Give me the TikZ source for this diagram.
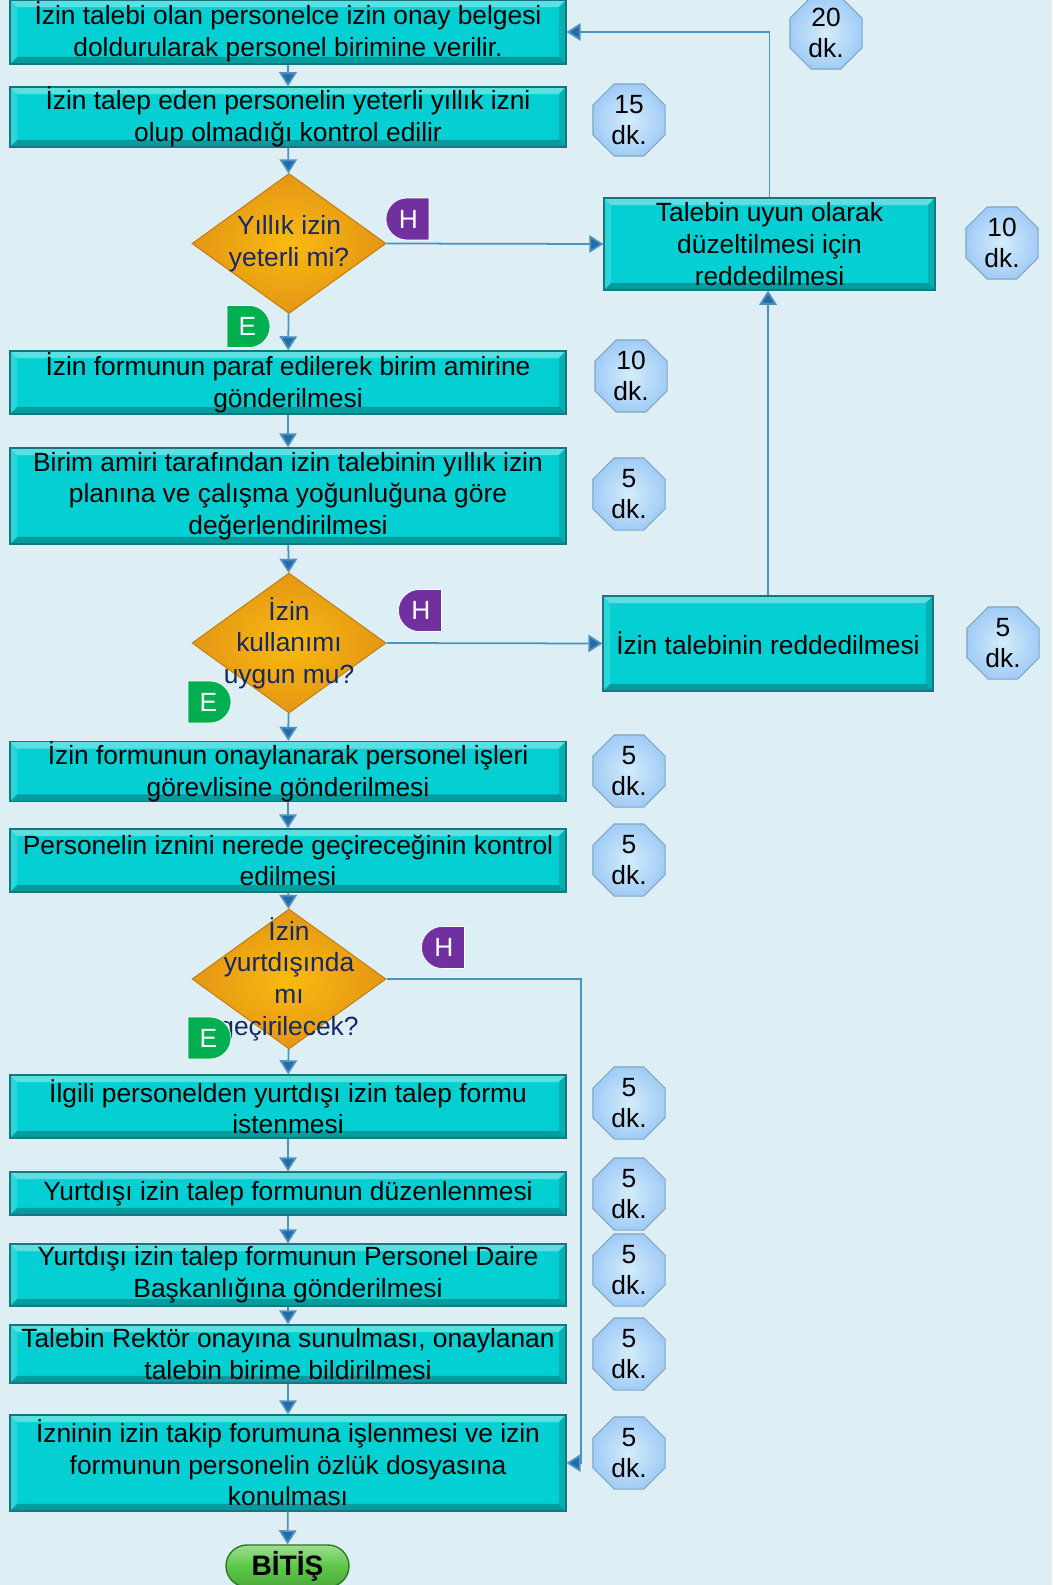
\documentclass[tikz,border=0pt]{standalone}
\usepackage{fontspec}
\setmainfont{Liberation Sans}
\usepackage{xcolor}
\usepackage{tikz}
\usetikzlibrary{shapes.geometric, shapes.misc, arrows.meta, positioning}

\definecolor{bgblue}{RGB}{221,238,244}
\definecolor{proccyan}{RGB}{4,208,211}
\definecolor{procedge}{RGB}{24,118,128}
\definecolor{linkblue}{RGB}{78,146,192}
\definecolor{tipblue}{RGB}{36,106,168}
\definecolor{qorange}{RGB}{248,163,22}
\definecolor{qedge}{RGB}{196,128,18}
\definecolor{qnavy}{RGB}{22,40,100}
\definecolor{octblue}{RGB}{176,222,246}
\definecolor{octedge}{RGB}{128,168,192}
\definecolor{hpurple}{RGB}{112,48,160}
\definecolor{egreen}{RGB}{0,176,80}
\definecolor{endgreen}{RGB}{92,200,72}
\definecolor{endedge}{RGB}{48,120,40}

\tikzset{bevel/.style={path picture={
  \path (path picture bounding box.north west) coordinate (nw)
        (path picture bounding box.south east) coordinate (se);
  \fill[white,opacity=.35] (nw) -- (nw -| se) -- ([shift={(-#1,-#1)}]nw -| se) -- ([shift={(#1,-#1)}]nw) -- cycle;
  \fill[white,opacity=.15] (nw) -- (nw |- se) -- ([shift={(#1,#1)}]nw |- se) -- ([shift={(#1,-#1)}]nw) -- cycle;
  \fill[black,opacity=.15] (se) -- (se |- nw) -- ([shift={(-#1,-#1)}]se |- nw) -- ([shift={(-#1,#1)}]se) -- cycle;
  \fill[black,opacity=.25] (se) -- (nw |- se) -- ([shift={(#1,#1)}]nw |- se) -- ([shift={(-#1,#1)}]se) -- cycle;
}}}
\tikzstyle{proc} = [rectangle, draw=procedge, fill=proccyan, line width=0.8pt, bevel=4pt, minimum width=11.12cm, inner sep=0pt, align=center, font=\fontsize{15}{18}\selectfont]
\tikzstyle{reject} = [proc, minimum width=6.62cm]
\tikzstyle{decision} = [diamond, draw=qedge, line width=0.6pt, inner color=qorange!75!yellow, outer color=qorange!92!black, minimum width=3.88cm, minimum height=2.8cm, inner sep=0pt]
\tikzstyle{qtext} = [align=center, text=qnavy, font=\fontsize{15}{18}\selectfont]
\tikzstyle{duration} = [regular polygon, regular polygon sides=8, minimum size=1.56cm, inner sep=0pt, draw=octedge, line width=0.6pt, inner color=octblue!55!white, outer color=octblue!92!blue, align=center, font=\fontsize{15}{18}\selectfont]
\tikzstyle{hbadge} = [rounded rectangle, rounded rectangle right arc=none, fill=hpurple, draw=white, minimum width=0.86cm, minimum height=0.84cm, inner sep=0pt, text=white, font=\fontsize{15}{18}\selectfont]
\tikzstyle{ebadge} = [hbadge, rounded rectangle right arc=convex, rounded rectangle left arc=none, fill=egreen]
\tikzstyle{finish} = [rounded rectangle, draw=endedge, line width=0.8pt, top color=endgreen!60!white, bottom color=endgreen!85!black, middle color=endgreen, minimum width=2.46cm, minimum height=0.84cm, inner sep=0pt, font=\fontsize{16}{18}\selectfont\bfseries]
\tikzstyle{arrow} = [draw=linkblue, line width=1pt, -{Triangle[width=10pt,length=8pt,fill=tipblue]}]

\begin{document}
\begin{tikzpicture}[x=0.02cm, y=-0.02cm]
                \fill[bgblue] (0,0) rectangle (1052,1585);
                \useasboundingbox (0,0) rectangle (1052,1585);
                % main column
                \node[proc, minimum height=1.28cm] (b1) at (288,32) {İzin talebi olan personelce izin onay belgesi\\doldurularak personel birimine verilir.};
                \node[proc, minimum height=1.2cm] (b2) at (288,117) {İzin talep eden personelin yeterli yıllık izni\\olup olmadığı kontrol edilir};
                \node[decision, label={[qtext]center:{Yıllık izin\\yeterli mi?}}] (d1) at (289,243.5) {};
                \node[proc, minimum height=1.26cm] (b3) at (288,382.5) {İzin formunun paraf edilerek birim amirine\\gönderilmesi};
                \node[proc, minimum height=1.92cm] (b4) at (288,496) {Birim amiri tarafından izin talebinin yıllık izin\\planına ve çalışma yoğunluğuna göre\\değerlendirilmesi};
                \node[decision, label={[qtext]center:{İzin\\kullanımı\\uygun mu?}}] (d2) at (289,643) {};
                \node[proc, minimum height=1.14cm] (b5) at (288,771.5) {İzin formunun onaylanarak personel işleri\\görevlisine gönderilmesi};
                \node[proc, minimum height=1.26cm] (b6) at (288,860.5) {Personelin iznini nerede geçireceğinin kontrol\\edilmesi};
                \node[decision, label={[qtext]center:{İzin\\yurtdışında\\mı\\geçirilecek?}}] (d3) at (289,979) {};
                \node[proc, minimum height=1.26cm] (b7) at (288,1106.5) {İlgili personelden yurtdışı izin talep formu\\istenmesi};
                \node[proc, minimum height=0.86cm] (b8) at (288,1193.5) {Yurtdışı izin talep formunun düzenlenmesi};
                \node[proc, minimum height=1.24cm] (b9) at (288,1275) {Yurtdışı izin talep formunun Personel Daire\\Başkanlığına gönderilmesi};
                \node[proc, minimum height=1.16cm] (b10) at (288,1354) {Talebin Rektör onayına sunulması, onaylanan\\talebin birime bildirilmesi};
                \node[proc, minimum height=1.92cm] (b11) at (288,1463) {İzninin izin takip forumuna işlenmesi ve izin\\formunun personelin özlük dosyasına\\konulması};
                \node[finish] (bitis) at (287.5,1566) {BİTİŞ};
                % rejections
                \node[reject, minimum height=1.84cm] (rb1) at (769.5,244) {Talebin uyun olarak\\düzeltilmesi için\\reddedilmesi};
                \node[reject, minimum width=6.6cm, minimum height=1.9cm] (rb2) at (768,643.5) {İzin talebinin reddedilmesi};
                % durations
                \node[duration] (o1) at (826,33) {20\\dk.};
                \node[duration] (o2) at (629,120) {15\\dk.};
                \node[duration] (o3) at (1002,243) {10\\dk.};
                \node[duration] (o4) at (631,376) {10\\dk.};
                \node[duration] (o5) at (629,494) {5\\dk.};
                \node[duration] (o6) at (1003,643) {5\\dk.};
                \node[duration] (o7) at (629,771) {5\\dk.};
                \node[duration] (o8) at (629,860) {5\\dk.};
                \node[duration] (o9) at (629,1103) {5\\dk.};
                \node[duration] (o10) at (629,1194) {5\\dk.};
                \node[duration] (o11) at (629,1270) {5\\dk.};
                \node[duration] (o12) at (629,1354) {5\\dk.};
                \node[duration] (o13) at (629,1453) {5\\dk.};
                % flow
                \coordinate (top) at (288,-20);
                \coordinate (turn) at (581,0);
                \draw[arrow] (top) -- (b1.north);
                \draw[arrow] (b1) -- (b2);
                \draw[arrow] (b2) -- (d1);
                \draw[arrow] (d1) -- (b3);
                \draw[arrow] (b3) -- (b4);
                \draw[arrow] (b4) -- (d2);
                \draw[arrow] (d2) -- (b5);
                \draw[arrow] (b5) -- (b6);
                \draw[arrow] (b6) -- (d3);
                \draw[arrow] (d3) -- (b7);
                \draw[arrow] (b7) -- (b8);
                \draw[arrow] (b8) -- (b9);
                \draw[arrow] (b9) -- (b10);
                \draw[arrow] (b10) -- (b11);
                \draw[arrow] (b11) -- (bitis);
                \draw[arrow] (d1.east) -- (rb1.west);
                \draw[arrow] (d2.east) -- (rb2.west);
                \draw[arrow] (rb2.north) -- (rb2.north |- rb1.south);
                \draw[arrow] (rb1.north) |- (b1.east);
                \draw[arrow] (d3.east) -- (d3.east -| turn) |- (b11.east);
                % answers
                \node[hbadge] (h1) at (408.5,219) {H};
                \node[ebadge] (e1) at (247.5,326.5) {E};
                \node[hbadge] (h2) at (421,610.5) {H};
                \node[ebadge] (e2) at (208.5,702) {E};
                \node[hbadge] (h3) at (444,947.5) {H};
                \node[ebadge] (e3) at (208.5,1038) {E};
\end{tikzpicture}
\end{document}
